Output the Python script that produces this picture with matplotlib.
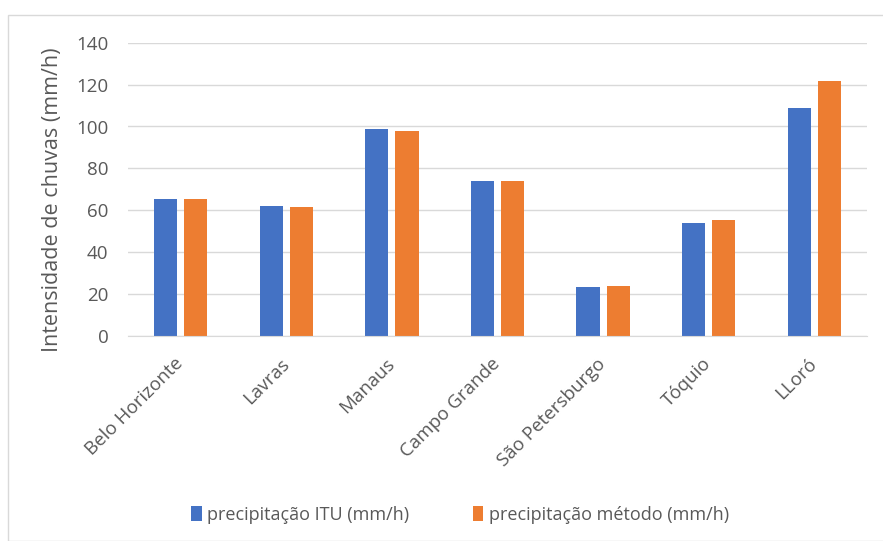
import numpy as np
import matplotlib.pyplot as plt
from matplotlib.patches import Rectangle

cidades = ["Belo Horizonte", "Lavras", "Manaus", "Campo Grande",
           "São Petersburgo", "Tóquio", "LLoró"]
itu = [65.4, 62.2, 98.8, 74.1, 23.2, 54.1, 108.7]
metodo = [65.4, 61.4, 98.0, 74.1, 23.9, 55.4, 121.9]
yticks = [0, 20, 40, 60, 80, 100, 120, 140]

plt.rcParams['font.family'] = ['Open Sans', 'DejaVu Sans']
cinza = "#595959"

fig = plt.figure(figsize=(8.83, 5.41), dpi=100)
ax = fig.add_axes([128/883, 1-336/541, (867-128)/883, (336-42.7)/541])

x = np.arange(len(cidades))
w = 0.22
ax.bar(x - 0.143, itu, w, color="#4472C4", label="precipitação ITU (mm/h)")
ax.bar(x + 0.143, metodo, w, color="#ED7D31", label="precipitação método (mm/h)")

ax.set_xlim(-0.5, len(cidades) - 0.5)
ax.set_ylim(0, 140)
ax.set_yticks(yticks)
ax.yaxis.grid(True, color="#d9d9d9", linewidth=1)
ax.set_axisbelow(True)
for s in ["top", "right", "left"]:
    ax.spines[s].set_visible(False)
ax.spines["bottom"].set_color("#d9d9d9")
ax.tick_params(axis="both", length=0, colors=cinza, labelsize=13.5)
ax.tick_params(axis="y", pad=14)
ax.tick_params(axis="x", pad=18)
ax.set_xticks(x)
ax.set_xticklabels(cidades, rotation=45, ha="right", va="center",
                   rotation_mode="anchor")
ax.set_ylabel("Intensidade de chuvas (mm/h)", fontsize=15.5, color=cinza)
ax.yaxis.set_label_coords(-0.088, 0.464)

fig.legend(loc="center", bbox_to_anchor=(460/883, 1-515/541), ncol=2,
           frameon=False, fontsize=13, labelcolor=cinza,
           handlelength=0.6, handleheight=0.9, handletextpad=0.3, columnspacing=3.5)

fig.patches.append(Rectangle((8/883, 0), 1, 1 - 15/541, transform=fig.transFigure,
                             fill=False, edgecolor="#d9d9d9", linewidth=1))

fig.savefig("out.png", dpi=100, facecolor="white")
